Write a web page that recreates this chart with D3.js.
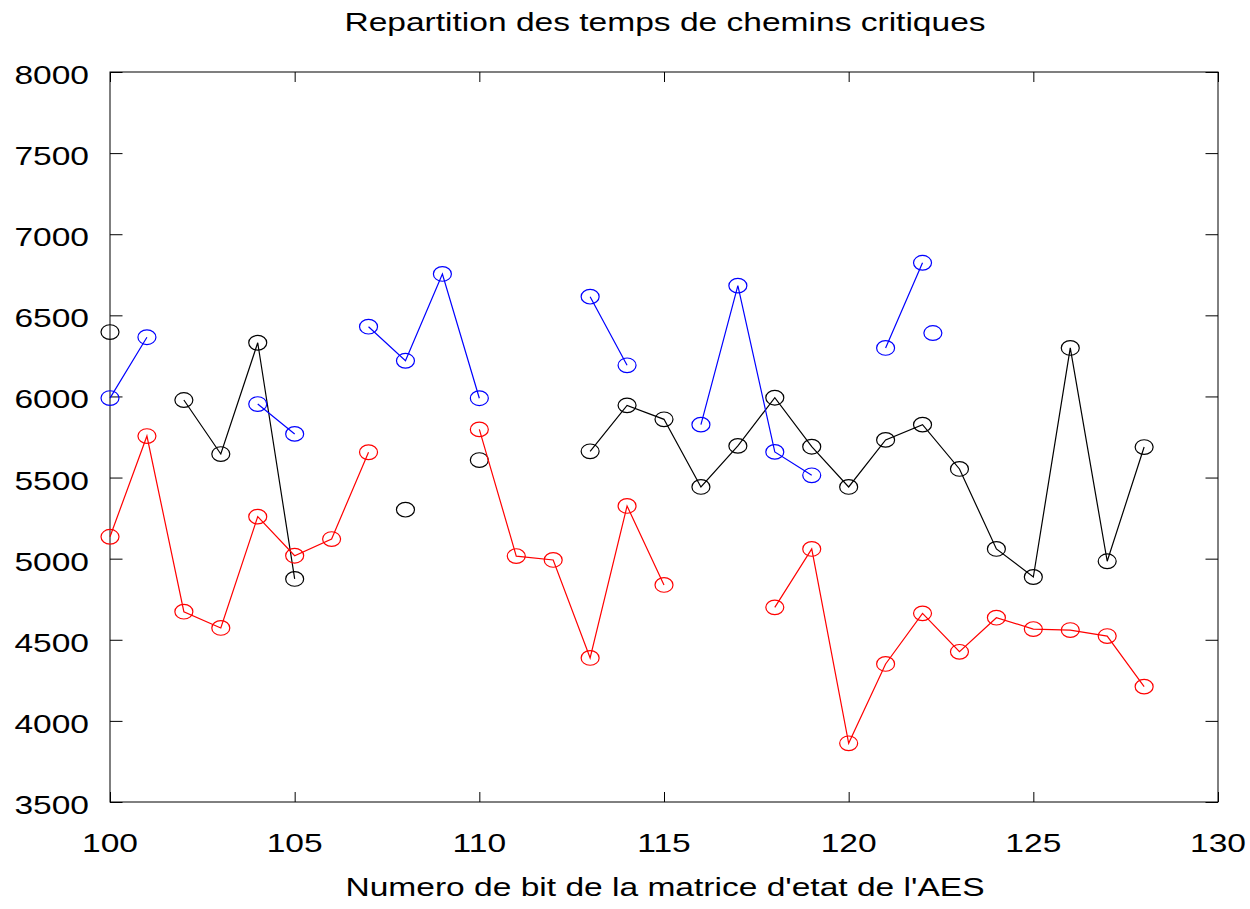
<!DOCTYPE html>
<html>
<head>
<meta charset="utf-8">
<script src="https://cdn.jsdelivr.net/npm/d3@7"></script>
<style>
  body { margin: 0; background: #fff; }
  text { font-family: "Liberation Sans", Arial, sans-serif; fill: #000; }
</style>
</head>
<body>
<svg id="chart" width="1250" height="909"></svg>
<script>
// bit number of the AES state matrix
var bits = [100, 101, 102, 103, 104, 105, 106, 107, 108, 109, 110, 111, 112, 113, 114,
            115, 116, 117, 118, 119, 120, 121, 122, 123, 124, 125, 126, 127, 128];

// critical path times (null = no value, the line breaks there)
var blackSeries = [6397, null, 5978, 5645, 6331, 4875, null, null, 5302, null, 5608, null, null, 5662, 5945,
                   5859, 5442, 5695, 5992, 5690, 5442, 5732, 5826, 5553, 5060, 4887, 6299, 4984, 5688];
var blueSeries  = [5990, 6365, null, null, 5953, 5769, null, 6430, 6220, 6755, 5989, null, null, 6615, 6192,
                   null, 5826, 6683, 5658, 5514, null, 6299, 6824, null, null, null, null, null, null];
var redSeries   = [5135, 5756, 4673, 4573, 5259, 5018, 5121, 5656, null, null, 5797, 5016, 4992, 4388, 5325,
                   4838, null, null, 4700, 5060, 3862, 4351, 4663, 4426, 4636, 4566, 4560, 4523, 4211];
// lone blue point slightly right of bit 122
var blueExtraX = [122.28];
var blueExtraY = [6391];

var xTicks = [100, 105, 110, 115, 120, 125, 130];
var yTicks = [3500, 4000, 4500, 5000, 5500, 6000, 6500, 7000, 7500, 8000];

var margin = { top: 72, left: 110 };
var width = 1108, height = 730;
var stretch = 1.29; // text looks stretched horizontally in the reference

var svg = d3.select("#chart");
var g = svg.append("g").attr("transform", "translate(" + margin.left + "," + margin.top + ")");

var x = d3.scaleLinear().domain([100, 130]).range([0, width]);
var y = d3.scaleLinear().domain([3500, 8000]).range([height, 0]);

// frame
g.append("rect")
    .attr("width", width).attr("height", height)
    .attr("fill", "none").attr("stroke", "#000").attr("stroke-width", 1);

// inward ticks on all four sides
function ticks(axis, tr, len) {
    var a = g.append("g").attr("transform", tr)
        .call(axis.tickSize(len).tickFormat(""));
    a.select(".domain").remove();
    a.selectAll("line").attr("stroke", "#000").attr("stroke-width", 1);
}
ticks(d3.axisBottom(x).tickValues(xTicks), "translate(0," + height + ")", -10);
ticks(d3.axisTop(x).tickValues(xTicks), "translate(0,0)", -10);
ticks(d3.axisLeft(y).tickValues(yTicks), "translate(0,0)", -12.5);
ticks(d3.axisRight(y).tickValues(yTicks), "translate(" + width + ",0)", -12.5);

// text, stretched sideways like the reference
function label(px, py, txt, anchor, size) {
    svg.append("text")
        .attr("transform", "translate(" + px + "," + py + ") scale(" + stretch + ",1)")
        .attr("text-anchor", anchor)
        .style("font-size", size + "px")
        .text(txt);
}
xTicks.forEach(function (t) { label(margin.left + x(t), 852, t, "middle", 26); });
yTicks.forEach(function (t) { label(89, margin.top + y(t) + 12, t, "end", 26); });

label(665, 31, "Repartition des temps de chemins critiques", "middle", 26);
label(665, 896, "Numero de bit de la matrice d'etat de l'AES", "middle", 26);

// series
var line = d3.line()
    .defined(function (d) { return d[1] !== null; })
    .x(function (d) { return x(d[0]); })
    .y(function (d) { return y(d[1]); });

function drawSeries(xs, vals, color, connect) {
    var pts = xs.map(function (b, i) { return [b, vals[i]]; });
    if (connect) {
        g.append("path").datum(pts)
            .attr("d", line)
            .attr("fill", "none").attr("stroke", color).attr("stroke-width", 1.2);
    }
    g.selectAll(null).data(pts.filter(function (d) { return d[1] !== null; }))
        .enter().append("ellipse")
        .attr("cx", function (d) { return x(d[0]); })
        .attr("cy", function (d) { return y(d[1]); })
        .attr("rx", 9).attr("ry", 7.3)
        .attr("fill", "none").attr("stroke", color).attr("stroke-width", 1.2);
}

drawSeries(bits, blackSeries, "#000000", true);
drawSeries(bits, blueSeries, "#0000ff", true);
drawSeries(bits, redSeries, "#ff0000", true);
drawSeries(blueExtraX, blueExtraY, "#0000ff", false);
</script>
</body>
</html>
